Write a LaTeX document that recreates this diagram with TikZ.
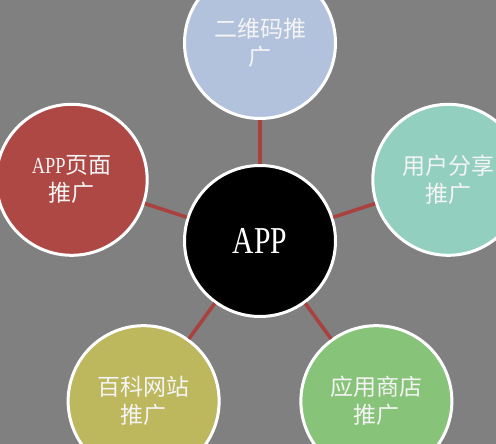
\documentclass[tikz,border=0pt]{standalone}
\usepackage{fontspec}
\usepackage{graphicx}
\setmainfont{Liberation Serif}
\newfontfamily\cjk{Noto Sans CJK SC}
\usetikzlibrary{positioning}

\definecolor{bggray}{HTML}{808080}
\definecolor{linkred}{HTML}{A9423F}
\definecolor{qrblue}{HTML}{B3C2DC}
\definecolor{shareteal}{HTML}{93CFBF}
\definecolor{storegreen}{HTML}{88C37A}
\definecolor{wikiolive}{HTML}{BDB75D}
\definecolor{pagered}{HTML}{AE4845}
\definecolor{labelwhite}{HTML}{F4F4F4}

\begin{document}
\begin{tikzpicture}[x=1pt,y=1pt,
		every node/.style={circle,draw=white,line width=3pt,minimum size=151pt,inner sep=0pt},
		hub/.style={fill=black,text=white,font=\rmfamily\fontsize{38}{38}\selectfont},
		channel/.style={text=labelwhite,align=center,font=\cjk\fontsize{23}{28}\selectfont},
		link/.style={linkred,line width=3.6pt}]
		% Background and page size
		\fill[bggray] (0,0) rectangle (496,444);
		\useasboundingbox (0,0) rectangle (496,444);
		% Centre node
		\node[hub] (app) at (260,203) {\scalebox{0.78}[1]{APP}};
		% Outer nodes: {angle/colour/name/text}, going round clockwise
		\foreach \ang/\col/\nm/\txt in {
				90/qrblue/qr/{二维码推\\广},
				18/shareteal/share/{用户分享\\推广},
				-54/storegreen/store/{应用商店\\推广},
				-126/wikiolive/wiki/{百科网站\\推广},
				162/pagered/page/{{\rmfamily\scalebox{0.8}[1]{APP}}页面\\推广}}{
			\node[channel,fill=\col] (\nm) at ([shift={(\ang:198)}]app.center) {\txt};% Place on the pentagon
			\draw[link] (app) -- (\nm);% Connect to the centre
		}
	\end{tikzpicture}
\end{document}
